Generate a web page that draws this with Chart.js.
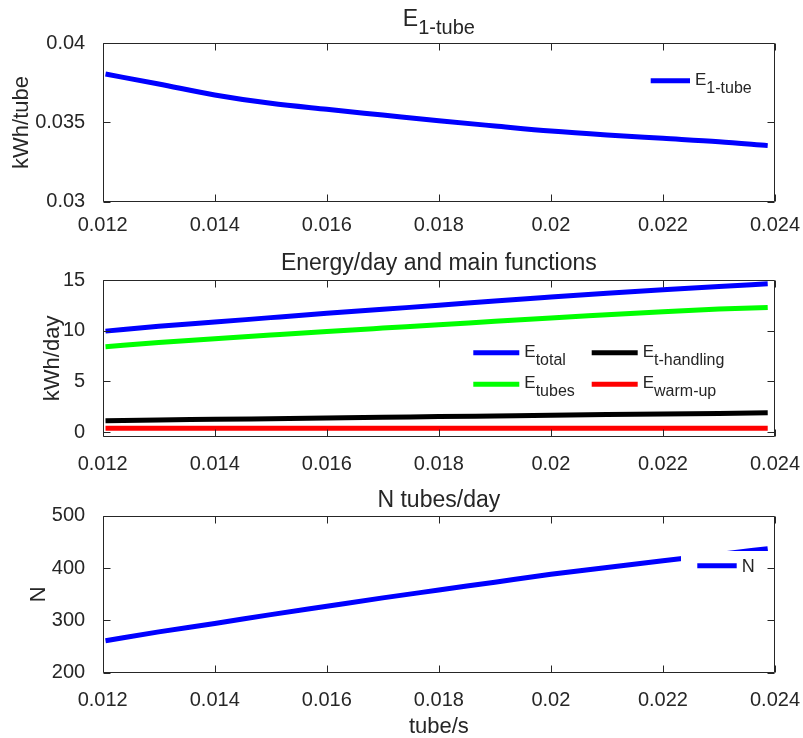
<!DOCTYPE html>
<html>
<head>
<meta charset="utf-8">
<script src="https://cdn.jsdelivr.net/npm/chart.js@4.4.1/dist/chart.umd.min.js"></script>
<style>
  html, body { margin: 0; padding: 0; background: #fff; }
  #fig { position: relative; width: 803px; height: 738px; }
  #fig canvas { position: absolute; left: 0; }
</style>
</head>
<body>
<div id="fig">
  <canvas id="c1" width="803" height="240" style="top:0px"></canvas>
  <canvas id="c2" width="803" height="236" style="top:240px"></canvas>
  <canvas id="c3" width="803" height="262" style="top:476px"></canvas>
</div>
<script>
// throughput (tube/s) at which every series is sampled
const rate = [0.01205, 0.013, 0.014, 0.015, 0.016, 0.017, 0.018, 0.019, 0.02, 0.021, 0.022, 0.023, 0.02387];

// energy per tube, kWh/tube
const e1Tube = [0.03806, 0.03743, 0.03674, 0.03621, 0.03583, 0.03547, 0.03511, 0.03478, 0.03446, 0.03421, 0.0340, 0.03379, 0.03354];

// energy per day and its parts, kWh/day
const eTotal    = [9.96, 10.43, 10.85, 11.29, 11.72, 12.12, 12.5, 12.94, 13.33, 13.7, 14.05, 14.37, 14.62];
const eTubes    = [8.43, 8.83, 9.2, 9.57, 9.93, 10.26, 10.58, 10.93, 11.26, 11.57, 11.88, 12.13, 12.3];
const eHandling = [1.12, 1.2, 1.26, 1.33, 1.4, 1.47, 1.53, 1.6, 1.67, 1.73, 1.78, 1.84, 1.9];
const eWarmUp   = [0.39, 0.39, 0.39, 0.39, 0.39, 0.39, 0.39, 0.39, 0.39, 0.39, 0.39, 0.39, 0.39];

// tubes per day
const nTubes = [261, 278, 294, 311, 327, 343, 358, 373, 388, 401, 414, 426, 437];

// tick values
const xTicks = [0.012, 0.014, 0.016, 0.018, 0.02, 0.022, 0.024];
const y1Ticks = [0.03, 0.035, 0.04];
const y2Ticks = [0, 5, 10, 15];
const y3Ticks = [200, 300, 400, 500];

const INK = '#262626';
const BLUE = '#0000ff', GREEN = '#00ff00', BLACK = '#000000', RED = '#ff0000';
const FAMILY = '"Liberation Sans", Arial, sans-serif';

Chart.defaults.font.family = FAMILY;
Chart.defaults.color = INK;
Chart.defaults.animation = false;

const pts = (ys) => rate.map((x, i) => ({ x, y: ys[i] }));
const fmt = (v) => String(Number(v.toFixed(4)));

// text with an optional subscript, parts = [{text, size, dy}]
function drawRich(ctx, parts, x, y, align) {
    let width = 0;
    parts.forEach(p => {
        ctx.font = p.size + 'px ' + FAMILY;
        width += ctx.measureText(p.text).width;
    });
    let cx = align === 'center' ? x - width / 2 : x;
    ctx.textAlign = 'left';
    ctx.textBaseline = 'alphabetic';
    ctx.fillStyle = INK;
    parts.forEach(p => {
        ctx.font = p.size + 'px ' + FAMILY;
        ctx.fillText(p.text, cx, y + (p.dy || 0));
        cx += ctx.measureText(p.text).width;
    });
}

// box around the axes with inward ticks on all four sides
const boxAxes = {
    id: 'boxAxes',
    afterDraw(chart, args, opts) {
        const { ctx, chartArea, scales } = chart;
        const l = Math.round(chartArea.left) + 0.5, r = Math.round(chartArea.right) - 0.5;
        const t = Math.round(chartArea.top) + 0.5, b = Math.round(chartArea.bottom) - 0.5;
        const len = 7;
        ctx.save();
        ctx.strokeStyle = INK;
        ctx.lineWidth = 1;
        ctx.beginPath();
        ctx.rect(l, t, r - l, b - t);
        xTicks.forEach(v => {
            const px = Math.round(scales.x.getPixelForValue(v)) + 0.5;
            ctx.moveTo(px, b); ctx.lineTo(px, b - len);
            ctx.moveTo(px, t); ctx.lineTo(px, t + len);
        });
        opts.yTicks.forEach(v => {
            const py = Math.round(scales.y.getPixelForValue(v)) + 0.5;
            ctx.moveTo(l, py); ctx.lineTo(l + len, py);
            ctx.moveTo(r, py); ctx.lineTo(r - len, py);
        });
        ctx.stroke();
        ctx.restore();
    }
};

// title above the axes, may carry a subscript
const richTitle = {
    id: 'richTitle',
    afterDraw(chart, args, opts) {
        const { ctx, chartArea } = chart;
        ctx.save();
        drawRich(ctx, opts.parts, (chartArea.left + chartArea.right) / 2, opts.y, 'center');
        ctx.restore();
    }
};

// legend drawn inside the axes on a white patch; offsets are from the top right corner
const inLegend = {
    id: 'inLegend',
    afterDatasetsDraw(chart, args, opts) {
        const { ctx, chartArea } = chart;
        ctx.save();
        ctx.fillStyle = '#ffffff';
        ctx.fillRect(chartArea.right - opts.box[0], chartArea.top + opts.box[1], opts.box[2], opts.box[3]);
        opts.items.forEach(it => {
            const x0 = chartArea.right - it.x, y0 = chartArea.top + it.y;
            ctx.strokeStyle = it.color;
            ctx.lineWidth = 5;
            ctx.beginPath();
            ctx.moveTo(x0, y0);
            ctx.lineTo(x0 + opts.len, y0);
            ctx.stroke();
            const lift = it.label.length > 1 ? 4 : 6.5;
            drawRich(ctx, it.label, x0 + opts.len + 5, y0 + lift, 'left');
        });
        ctx.restore();
    }
};

const sub = (main, low) => [{ text: main, size: 17 }, { text: low, size: 16, dy: 8 }];

function axesOptions(cfg) {
    return {
        responsive: false,
        layout: { padding: { top: cfg.top, right: 28, bottom: 0, left: 0 } },
        plugins: {
            legend: { display: false },
            tooltip: { enabled: false },
            richTitle: { parts: cfg.title, y: cfg.titleY },
            inLegend: cfg.legend,
            boxAxes: { yTicks: cfg.yTicks }
        },
        elements: { point: { radius: 0 }, line: { borderWidth: 5, cubicInterpolationMode: 'monotone' } },
        scales: {
            x: {
                type: 'linear', min: 0.012, max: 0.024,
                afterBuildTicks: s => { s.ticks = xTicks.map(v => ({ value: v })); },
                afterFit: s => { s.height = cfg.xHeight; s.paddingLeft = 0; s.paddingRight = 0; },
                grid: { display: false }, border: { display: false },
                ticks: { padding: cfg.xPad, autoSkip: false, maxRotation: 0, font: { size: 20 }, color: INK, callback: fmt },
                title: cfg.xTitle ? { display: true, text: cfg.xTitle, font: { size: 22, lineHeight: 1 }, color: INK, padding: { top: 0, bottom: 0 } } : { display: false }
            },
            y: {
                type: 'linear', min: cfg.yMin, max: cfg.yMax,
                afterBuildTicks: s => { s.ticks = cfg.yTicks.map(v => ({ value: v })); },
                afterFit: s => { s.width = 102.7; s.paddingTop = 0; s.paddingBottom = 0; },
                grid: { display: false }, border: { display: false },
                ticks: { padding: 9.5, autoSkip: false, font: { size: 20 }, color: INK, callback: fmt },
                title: { display: true, text: cfg.yTitle, font: { size: 22, lineHeight: 1 }, color: INK, padding: { top: cfg.yTitlePad, bottom: 0 } }
            }
        }
    };
}

const line = (label, data, color) => ({ label, data: pts(data), borderColor: color, backgroundColor: color, fill: false });

new Chart(document.getElementById('c1'), {
    type: 'line',
    data: { datasets: [line('E1-tube', e1Tube, BLUE)] },
    options: axesOptions({
        top: 43.3, xHeight: 38.3, xPad: 4,
        yMin: 0.03, yMax: 0.04, yTicks: y1Ticks, yTitle: 'kWh/tube', yTitlePad: 11,
        title: [{ text: 'E', size: 23 }, { text: '1-tube', size: 20, dy: 8 }], titleY: 26,
        legend: {
            len: 39.3, box: [130, 20, 126, 35],
            items: [{ x: 124.3, y: 37.4, color: BLUE, label: sub('E', '1-tube') }]
        }
    }),
    plugins: [inLegend, boxAxes, richTitle]
});

new Chart(document.getElementById('c2'), {
    type: 'line',
    data: {
        datasets: [
            line('Etotal', eTotal, BLUE),
            line('Etubes', eTubes, GREEN),
            line('Et-handling', eHandling, BLACK),
            line('Ewarm-up', eWarmUp, RED)
        ]
    },
    options: axesOptions({
        top: 40, xHeight: 39.3, xPad: 8,
        yMin: -0.45, yMax: 15, yTicks: y2Ticks, yTitle: 'kWh/day', yTitlePad: 42,
        title: [{ text: 'Energy/day and main functions', size: 23 }], titleY: 30,
        legend: {
            len: 46, box: [306, 56, 300, 70],
            items: [
                { x: 301.7, y: 72.7, color: BLUE, label: sub('E', 'total') },
                { x: 183.3, y: 72.7, color: BLACK, label: sub('E', 't-handling') },
                { x: 301.7, y: 104.3, color: GREEN, label: sub('E', 'tubes') },
                { x: 183.3, y: 104.3, color: RED, label: sub('E', 'warm-up') }
            ]
        }
    }),
    plugins: [inLegend, boxAxes, richTitle]
});

new Chart(document.getElementById('c3'), {
    type: 'line',
    data: { datasets: [line('N', nTubes, BLUE)] },
    options: axesOptions({
        top: 39.7, xHeight: 65.3, xPad: 8, xTitle: 'tube/s',
        yMin: 200, yMax: 500, yTicks: y3Ticks, yTitle: 'N', yTitlePad: 28,
        title: [{ text: 'N tubes/day', size: 23 }], titleY: 30.7,
        legend: {
            len: 39.4, box: [94, 35.3, 91, 29],
            items: [{ x: 77.7, y: 50, color: BLUE, label: [{ text: 'N', size: 18 }] }]
        }
    }),
    plugins: [inLegend, boxAxes, richTitle]
});
</script>
</body>
</html>
